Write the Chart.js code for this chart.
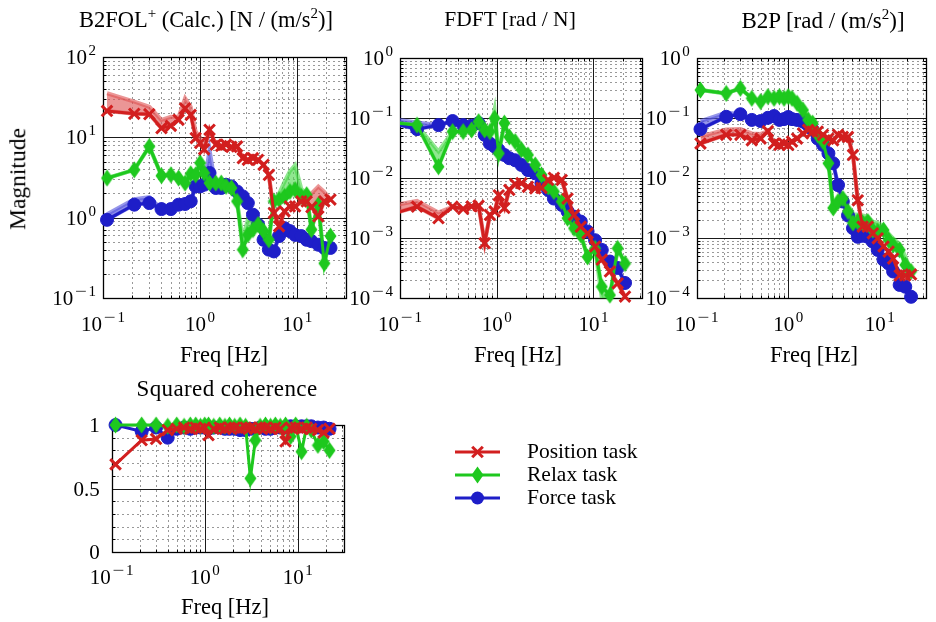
<!DOCTYPE html>
<html>
<head>
<meta charset="utf-8">
<script src="https://cdn.jsdelivr.net/npm/chart.js@4.4.1/dist/chart.umd.min.js"></script>
<style>
  body { margin: 0; background: #fff; }
  #page { position: relative; width: 936px; height: 622px; overflow: hidden; font-family: "Liberation Serif", serif; color: #000; }
  canvas { position: absolute; left: 0; top: 0; }
  .lbl { position: absolute; transform: translate(-50%, -50%); white-space: nowrap; font-size: 22.5px; line-height: 1; }
  .lbl sup { font-size: 15px; vertical-align: 0; position: relative; top: -9px; line-height: 0; }
  .leg { position: absolute; transform: translate(0, -50%); white-space: nowrap; font-size: 21.5px; line-height: 1; }
</style>
</head>
<body>
<div id="page">
  <canvas id="c1" width="936" height="622"></canvas>
  <canvas id="c2" width="936" height="622"></canvas>
  <canvas id="c3" width="936" height="622"></canvas>
  <canvas id="c4" width="936" height="622"></canvas>

  <div class="lbl" style="left:206px;top:20px">B2FOL<sup>+</sup> (Calc.) [N / (m/s<sup>2</sup>)]</div>
  <div class="lbl" style="left:510px;top:20px;font-size:21.5px">FDFT [rad / N]</div>
  <div class="lbl" style="left:823px;top:20px;font-size:23px">B2P [rad / (m/s<sup>2</sup>)]</div>
  <div class="lbl" style="left:18px;top:179px;font-size:23.5px;transform:translate(-50%,-50%) rotate(-90deg)">Magnitude</div>
  <div class="lbl" style="left:224px;top:355px">Freq [Hz]</div>
  <div class="lbl" style="left:518px;top:355px">Freq [Hz]</div>
  <div class="lbl" style="left:814px;top:355px">Freq [Hz]</div>
  <div class="lbl" style="left:227px;top:388px;font-size:23px;letter-spacing:0.4px">Squared coherence</div>
  <div class="lbl" style="left:225px;top:607px">Freq [Hz]</div>
  <div class="leg" style="left:527px;top:452px">Position task</div>
  <div class="leg" style="left:527px;top:475px">Relax task</div>
  <div class="leg" style="left:527px;top:498px">Force task</div>
</div>

<script>
// Frequency grids [Hz]
const freq = [0.11, 0.21, 0.3, 0.4, 0.5, 0.6, 0.7, 0.8, 0.9, 1.0, 1.1, 1.25, 1.45, 1.65, 1.85, 2.1, 2.4,
              2.75, 3.1, 3.5, 3.95, 4.5, 5.1, 5.75, 6.5, 7.4, 8.4, 9.5, 11, 12.5, 14, 16.5, 19, 22];
const freqFd = [0.05, 0.15, 0.25, 0.35, 0.45, 0.55, 0.65, 0.75, 0.85, 0.95, 1.05, 1.2, 1.35, 1.55, 1.8,
                2.1, 2.5, 2.9, 3.4, 3.9, 4.7, 5.4, 6.3, 7.4, 8.7, 10.4, 12.2, 14.8, 17.8, 21.2];

// B2FOL+ magnitude [N / (m/s^2)]
const b2folPos = [21.3, 19.6, 19.4, 13, 13.9, 16.5, 22.9, 19, 9.8, 8.5, 7.1, 12.4, 8.1, 7.8, 8.1, 7.6, 7.7,
                  5.5, 5.25, 5.5, 5.25, 4.55, 3.4, 1.14, 0.78, 1.2, 1.38, 1.38, 1.59, 1.59, 1.35, 1.04, 1.6, 1.68];
const b2folRelax = [3.11, 3.94, 7.7, 3.33, 3.42, 3.11, 2.7, 3.52, 3.42, 4.8, 3.6, 2.7, 2.7, 2.7, 2.45, 2.34, 1.6,
                    0.4, 0.615, 0.71, 0.82, 0.68, 0.53, 1.6, 1.68, 1.84, 2.12, 2.23, 1.84, 1.93, 0.71, 1.45, 0.27, 0.59];
const b2folForce = [0.94, 1.45, 1.52, 1.28, 1.28, 1.45, 1.48, 1.6, 2.45, 2.45, 2.57, 3.6, 2.34, 2.34, 2.57, 2.45, 2.12,
                    1.84, 1.52, 1.09, 0.82, 0.53, 0.4, 0.38, 0.59, 0.74, 0.68, 0.61, 0.59, 0.53, 0.51, 0.46, 0.42, 0.42];
// confidence band edges (index -> value), elsewhere the band follows the estimate
const b2folPosHi = {0: 35.4, 1: 27.9, 2: 24, 3: 16.5, 4: 18, 5: 18, 6: 30.7, 7: 24, 8: 11.8, 9: 10, 30: 2.0, 31: 2.45, 32: 2.1};
const b2folRelaxHi = {17: 0.55, 18: 0.95, 19: 0.9, 24: 2.0, 25: 2.8, 26: 3.8, 27: 4.5, 28: 2.3};
const b2folForceHi = {0: 1.1, 1: 1.7, 2: 1.8, 11: 7.0};

// FDFT magnitude [rad / N]
const fdftPos = [0.002, 0.00336, 0.00216, 0.00336, 0.0031, 0.0034, 0.0035, 0.00083, 0.00245, 0.0028, 0.0052, 0.0032,
                 0.0064, 0.008, 0.0083, 0.0072, 0.0068, 0.0069, 0.0094, 0.0102, 0.0094, 0.0046, 0.00245, 0.00156,
                 0.00121, 0.00073, 0.00044, 0.00028, 0.000178, 0.000107];
const fdftRelax = [0.092, 0.077, 0.0156, 0.06, 0.06, 0.064, 0.088, 0.064, 0.06, 0.1, 0.026, 0.083, 0.049, 0.041,
                   0.03, 0.0245, 0.0167, 0.0114, 0.0072, 0.006, 0.0041, 0.00216, 0.00147, 0.00114, 0.00049, 0.00068,
                   0.000156, 0.000113, 0.00068, 0.00038];
const fdftForce = [0.1, 0.066, 0.077, 0.09, 0.077, 0.075, 0.083, 0.053, 0.038, 0.034, 0.0296, 0.0245, 0.0216, 0.02,
                   0.0167, 0.0137, 0.0121, 0.0083, 0.0064, 0.0046, 0.0036, 0.0028, 0.0023, 0.0019, 0.0013, 0.00093,
                   0.00064, 0.00041, 0.00032, 0.00018];
const fdftPosHi = {0: 0.003, 1: 0.0042, 2: 0.0027};
const fdftRelaxHi = {2: 0.028, 9: 0.14};
const fdftRelaxLo = {26: 0.0001, 27: 0.00009};
const fdftForceHi = {0: 0.11, 1: 0.085};

// B2P magnitude [rad / (m/s^2)]
const b2pPos = [0.038, 0.053, 0.053, 0.043, 0.046, 0.061, 0.038, 0.036, 0.038, 0.036, 0.041, 0.046, 0.056, 0.064,
                0.06, 0.06, 0.053, 0.046, 0.043, 0.053, 0.049, 0.049, 0.0245, 0.0043, 0.00156, 0.00156, 0.00121,
                0.001, 0.00073, 0.0006, 0.00046, 0.00024, 0.00024, 0.00025];
const b2pRelax = [0.296, 0.26, 0.316, 0.215, 0.19, 0.23, 0.215, 0.23, 0.215, 0.23, 0.215, 0.178, 0.137, 0.094,
                  0.083, 0.053, 0.041, 0.0178, 0.0032, 0.0041, 0.0046, 0.0028, 0.0018, 0.0019, 0.0018, 0.0019,
                  0.00137, 0.0013, 0.00137, 0.00094, 0.00077, 0.00064, 0.00036, 0.00028];
const b2pForce = [0.066, 0.106, 0.117, 0.094, 0.09, 0.102, 0.109, 0.094, 0.097, 0.105, 0.097, 0.094, 0.088, 0.077,
                  0.064, 0.046, 0.036, 0.026, 0.0178, 0.0077, 0.0041, 0.0024, 0.00147, 0.00106, 0.0011, 0.00106,
                  0.00088, 0.00064, 0.00044, 0.00038, 0.00028, 0.000167, 0.000156, 0.000106];
const b2pPosHi = {0: 0.05, 1: 0.065, 2: 0.066, 3: 0.056, 4: 0.055};
const b2pRelaxHi = {22: 0.0025, 23: 0.0025, 24: 0.0024, 25: 0.0023, 26: 0.0019, 27: 0.0018, 28: 0.0016,
                    29: 0.0012, 30: 0.001, 31: 0.0008, 32: 0.0005};
const b2pForceHi = {0: 0.09, 1: 0.125};

// squared coherence
const cohPos = [0.69, 0.88, 0.89, 0.96, 0.97, 0.98, 0.97, 0.98, 0.97, 0.98, 0.92, 0.97, 0.98, 0.97, 0.98, 0.98, 0.97,
                0.98, 0.98, 0.97, 0.98, 0.98, 0.97, 0.98, 0.97, 0.87, 0.98, 0.98, 0.97, 0.98, 0.97, 0.96, 0.94, 0.97];
const cohRelax = [1.0, 1.0, 1.0, 0.99, 1.0, 0.99, 1.0, 1.0, 0.99, 1.0, 1.0, 0.99, 1.0, 0.99, 1.0, 0.99, 1.0,
                  0.99, 0.58, 0.88, 0.99, 1.0, 0.99, 1.0, 0.99, 1.0, 0.91, 1.0, 0.79, 0.99, 0.96, 0.84, 0.87, 0.8];
const cohForce = [1.0, 0.95, 0.98, 0.9, 0.97, 0.98, 0.97, 0.98, 0.98, 0.98, 0.97, 0.98, 0.98, 0.97, 0.97, 0.97, 0.96,
                  0.96, 0.97, 0.97, 0.98, 0.97, 0.97, 0.98, 0.98, 0.98, 0.99, 0.99, 0.99, 0.99, 0.99, 0.98, 0.98, 0.97];

// tick labels
const freqTicks = [0.1, 1, 10];
const freqTickExp = ['\u22121', '0', '1'];
const b2folTicks = [0.1, 1, 10, 100];
const b2folTickExp = ['\u22121', '0', '1', '2'];
const radTicks = [1e-4, 1e-3, 1e-2, 1e-1, 1];
const radTickExp = ['\u22124', '\u22123', '\u22122', '\u22121', '0'];
const cohTicks = [0, 0.5, 1];
const cohTickText = ['0', '0.5', '1'];

const FONT = '"Liberation Serif", serif';
const RED = '#d21f1f', GREEN = '#1ec81e', BLUE = '#1e1ec8';

// tall diamond marker
function makeDiamond(color) {
  const c = document.createElement('canvas');
  c.width = 13; c.height = 18;
  const g = c.getContext('2d');
  g.fillStyle = color;
  g.beginPath();
  g.moveTo(6.5, 0.5); g.lineTo(12.5, 9); g.lineTo(6.5, 17.5); g.lineTo(0.5, 9);
  g.closePath(); g.fill();
  return c;
}
const diamond = makeDiamond(GREEN);

const STYLE = {
  pos:   { color: RED,   band: 'rgba(222,80,80,0.6)',  point: 'crossRot', radius: 7.5, pbw: 3,   order: 0 },
  relax: { color: GREEN, band: 'rgba(70,215,70,0.6)',  point: diamond,    radius: 7,   pbw: 1,   order: 1 },
  force: { color: BLUE,  band: 'rgba(80,80,220,0.6)',  point: 'circle',   radius: 6.5, pbw: 1,   order: 2 }
};

function series(fs, vals, kind, clip, hi, lo) {
  const st = STYLE[kind];
  const out = [{
    data: fs.map((f, i) => ({ x: f, y: vals[i] })),
    borderColor: st.color, backgroundColor: st.color, borderWidth: 3,
    pointStyle: st.point, pointRadius: st.radius, pointBorderWidth: st.pbw,
    pointBackgroundColor: st.color, pointBorderColor: st.color,
    tension: 0, fill: false, order: st.order, clip: clip
  }];
  if (hi || lo) {
    hi = hi || {}; lo = lo || {};
    out.push({
      data: fs.map((f, i) => ({ x: f, y: i in hi ? hi[i] : vals[i] })),
      borderColor: st.band, backgroundColor: st.band, borderWidth: 4,
      pointRadius: 0, tension: 0, fill: '+1', order: 10 + st.order, clip: 0
    }, {
      data: fs.map((f, i) => ({ x: f, y: i in lo ? lo[i] : vals[i] })),
      borderColor: st.band, borderWidth: 4,
      pointRadius: 0, tension: 0, fill: false, order: 10 + st.order, clip: 0
    });
  }
  return out;
}

function logMinor(min, max) {
  const out = [];
  for (let e = Math.floor(Math.log10(min)); e <= Math.ceil(Math.log10(max)); e++) {
    for (let k = 2; k <= 9; k++) {
      const v = k * Math.pow(10, e);
      if (v > min * 1.0001 && v < max * 0.9999) out.push(v);
    }
  }
  return out;
}

function seg(ctx, x1, y1, x2, y2) {
  ctx.beginPath(); ctx.moveTo(x1, y1); ctx.lineTo(x2, y2); ctx.stroke();
}
const snap = v => Math.round(v) + 0.5;

// "10" with a raised exponent; the minus sign is stretched to a math-style width
function drawPow(ctx, exp, x, y, align) {
  const BASE = '21px ' + FONT, SUP = '15px ' + FONT;
  ctx.font = BASE;
  const wb = ctx.measureText('10').width;
  ctx.font = SUP;
  const neg = exp[0] === '\u2212';
  const digits = neg ? exp.slice(1) : exp;
  const wm = neg ? ctx.measureText('\u2212').width * 1.4 + 2 : 0;
  const wd = ctx.measureText(digits).width;
  const total = wb + 1.5 + wm + wd;
  const x0 = align === 'center' ? x - total / 2 : x - total;
  ctx.textAlign = 'left';
  ctx.textBaseline = 'alphabetic';
  ctx.font = BASE;
  ctx.fillText('10', x0, y);
  ctx.font = SUP;
  const xe = x0 + wb + 1.5;
  if (neg) {
    ctx.save();
    ctx.translate(xe, y - 9);
    ctx.scale(1.4, 1);
    ctx.fillText('\u2212', 0, 0);
    ctx.restore();
  }
  ctx.fillText(digits, xe + wm, y - 9);
}

// grid, frame, ticks and tick labels
const axesDecor = {
  id: 'axesDecor',
  beforeDatasetsDraw(chart, args, o) {
    const { ctx, chartArea: a, scales: { x, y } } = chart;
    const L = snap(a.left), R = snap(a.right), T = snap(a.top), B = snap(a.bottom);
    ctx.save();
    ctx.lineWidth = 1;
    ctx.strokeStyle = 'rgba(0,0,0,0.8)';
    ctx.setLineDash([1, 4]);
    o.xMinor.forEach(v => { const p = snap(x.getPixelForValue(v)); seg(ctx, p, T, p, B); });
    o.yMinor.forEach(v => { const p = snap(y.getPixelForValue(v)); seg(ctx, L, p, R, p); });
    ctx.setLineDash([]);
    ctx.strokeStyle = '#1a1a1a';
    o.xMajor.forEach(v => { const p = snap(x.getPixelForValue(v)); seg(ctx, p, T, p, B); });
    o.yMajor.forEach(v => { const p = snap(y.getPixelForValue(v)); seg(ctx, L, p, R, p); });
    // inward ticks on all four sides
    ctx.strokeStyle = '#000';
    o.xMinor.forEach(v => { const p = snap(x.getPixelForValue(v)); seg(ctx, p, B, p, B - 3); seg(ctx, p, T, p, T + 3); });
    o.yMinor.forEach(v => { const p = snap(y.getPixelForValue(v)); seg(ctx, L, p, L + 3, p); seg(ctx, R, p, R - 3, p); });
    ctx.lineWidth = 1.3;
    ctx.strokeRect(L, T, R - L, B - T);
    ctx.restore();
  },
  afterDraw(chart, args, o) {
    const { ctx, chartArea: a, scales: { x, y } } = chart;
    ctx.save();
    ctx.fillStyle = '#000';
    o.xTicks.forEach((v, i) => drawPow(ctx, o.xExp[i], x.getPixelForValue(v), a.bottom + o.xLabelDy, 'center'));
    o.yTicks.forEach((v, i) => {
      const py = y.getPixelForValue(v);
      if (o.yExp) {
        drawPow(ctx, o.yExp[i], a.left - 7, py + 7, 'right');
      } else {
        ctx.font = '21px ' + FONT;
        ctx.textAlign = 'right';
        ctx.textBaseline = 'alphabetic';
        ctx.fillText(o.yText[i], a.left - 12, py + 7);
      }
    });
    ctx.restore();
  }
};

// legend symbols next to the HTML labels
const legendDraw = {
  id: 'legendDraw',
  afterDraw(chart) {
    const ctx = chart.ctx;
    const rows = [['pos', 452], ['relax', 475], ['force', 498]];
    ctx.save();
    rows.forEach(([k, y]) => {
      const st = STYLE[k];
      ctx.strokeStyle = st.color;
      ctx.fillStyle = st.color;
      ctx.lineWidth = 3;
      seg(ctx, 455, y, 500, y);
      const cx = 477.5;
      if (k === 'pos') {
        const d = st.radius * Math.SQRT1_2;
        ctx.lineWidth = st.pbw;
        seg(ctx, cx - d, y - d, cx + d, y + d);
        seg(ctx, cx - d, y + d, cx + d, y - d);
      } else if (k === 'relax') {
        ctx.drawImage(diamond, cx - diamond.width / 2, y - diamond.height / 2);
      } else {
        ctx.beginPath(); ctx.arc(cx, y, st.radius, 0, Math.PI * 2); ctx.fill();
      }
    });
    ctx.restore();
  }
};

function makeChart(id, box, yScale, datasets, decor, extra) {
  return new Chart(document.getElementById(id), {
    type: 'line',
    data: { datasets },
    options: {
      responsive: false,
      animation: false,
      devicePixelRatio: 1,
      layout: { padding: { left: box[0], top: box[1], right: 936 - box[2], bottom: 622 - box[3] } },
      scales: {
        x: { type: 'logarithmic', min: 0.1, max: 31.62, display: false },
        y: Object.assign({ display: false }, yScale)
      },
      plugins: { legend: { display: false }, tooltip: { enabled: false }, axesDecor: decor }
    },
    plugins: [axesDecor].concat(extra || [])
  });
}

const xMinor = logMinor(0.1, 31.62);
const xDecor = { xMinor, xMajor: [1, 10], xTicks: freqTicks, xExp: freqTickExp, xLabelDy: 33 };
const keep = 14;

makeChart('c1', [103, 57, 345.8, 298], { type: 'logarithmic', min: 0.1, max: 100 },
  [].concat(
    series(freq, b2folPos, 'pos', keep, b2folPosHi),
    series(freq, b2folRelax, 'relax', keep, b2folRelaxHi),
    series(freq, b2folForce, 'force', keep, b2folForceHi)
  ),
  Object.assign({ yMinor: logMinor(0.1, 100), yMajor: [1, 10], yTicks: b2folTicks, yExp: b2folTickExp }, xDecor));

const clipFd = { left: 0, top: keep, right: keep, bottom: 6 };
makeChart('c2', [400, 58.3, 641.8, 298.3], { type: 'logarithmic', min: 1e-4, max: 1 },
  [].concat(
    series(freqFd, fdftPos, 'pos', clipFd, fdftPosHi),
    series(freqFd, fdftRelax, 'relax', clipFd, fdftRelaxHi, fdftRelaxLo),
    series(freqFd, fdftForce, 'force', clipFd, fdftForceHi)
  ),
  Object.assign({ yMinor: logMinor(1e-4, 1), yMajor: [1e-3, 1e-2, 1e-1], yTicks: radTicks, yExp: radTickExp }, xDecor));

makeChart('c3', [696.7, 58.3, 938.5, 298.3], { type: 'logarithmic', min: 1e-4, max: 1 },
  [].concat(
    series(freq, b2pPos, 'pos', keep, b2pPosHi),
    series(freq, b2pRelax, 'relax', keep, b2pRelaxHi),
    series(freq, b2pForce, 'force', keep, b2pForceHi)
  ),
  Object.assign({ yMinor: logMinor(1e-4, 1), yMajor: [1e-3, 1e-2, 1e-1], yTicks: radTicks, yExp: radTickExp }, xDecor));

makeChart('c4', [111.7, 425, 344.2, 552], { type: 'linear', min: 0, max: 1 },
  [].concat(
    series(freq, cohPos, 'pos', keep),
    series(freq, cohRelax, 'relax', keep),
    series(freq, cohForce, 'force', keep)
  ),
  Object.assign({ yMinor: [0.1, 0.2, 0.3, 0.4, 0.6, 0.7, 0.8, 0.9], yMajor: [0.5], yTicks: cohTicks, yText: cohTickText },
    xDecor, { xLabelDy: 32 }),
  [legendDraw]);
</script>
</body>
</html>
